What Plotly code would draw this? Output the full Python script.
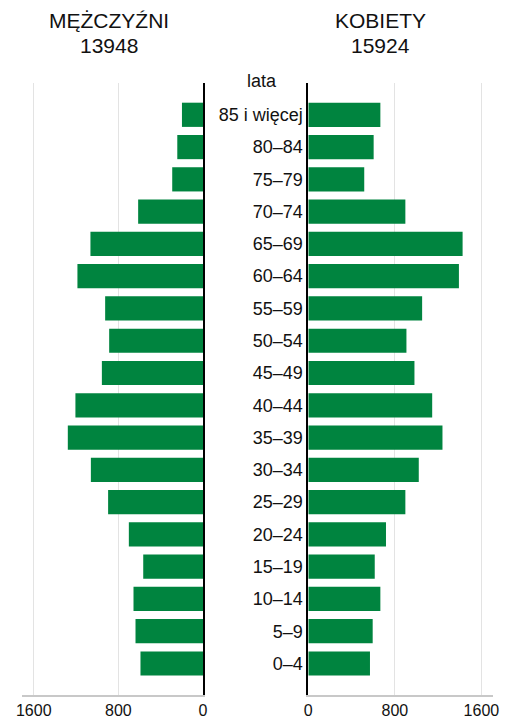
import plotly.graph_objects as go

age_groups = ["0–4", "5–9", "10–14", "15–19", "20–24", "25–29", "30–34", "35–39",
              "40–44", "45–49", "50–54", "55–59", "60–64", "65–69", "70–74",
              "75–79", "80–84", "85 i więcej"]
men = [591, 638, 657, 565, 701, 897, 1060, 1278, 1206, 956, 887, 925, 1187, 1064,
       613, 291, 243, 199]
women = [570, 595, 666, 614, 718, 897, 1021, 1240, 1145, 981, 907, 1052, 1392, 1426,
         897, 517, 604, 666]
men_title = "MĘŻCZYŹNI"
women_title = "KOBIETY"
men_total = "13948"
women_total = "15924"
age_label = "lata"
x_ticks = [0, 800, 1600]

FONT = "Liberation Sans, Arial, sans-serif"
GREEN = "#00843f"

fig = go.Figure()
fig.add_trace(go.Bar(y=age_groups, x=men, orientation="h", xaxis="x", yaxis="y",
                     marker=dict(color=GREEN, line=dict(width=0)), width=0.75,
                     showlegend=False))
fig.add_trace(go.Bar(y=age_groups, x=women, orientation="h", xaxis="x2", yaxis="y2",
                     marker=dict(color=GREEN, line=dict(width=0)), width=0.75,
                     showlegend=False))

W, H = 514, 720
ml, mr, mt, mb = 22, 21, 83, 25
pw = W - ml - mr
ph = H - mt - mb


def px_x(x):
    return (x - ml) / pw


def px_y(y):
    return (H - mb - y) / ph


xcommon = dict(tickvals=x_ticks, ticktext=[str(v) for v in x_ticks],
               showgrid=True, gridcolor="#e3e3e3", gridwidth=1, zeroline=False,
               showline=True, linecolor="#c8c8c8", linewidth=2, ticks="",
               automargin=False,
               tickfont=dict(family=FONT, size=16, color="#111"), fixedrange=True)
ycommon = dict(type="category", categoryorder="array", categoryarray=age_groups,
               range=[-0.976, len(age_groups) - 1 + 0.985], showgrid=False,
               zeroline=False, showline=True, linecolor="black", linewidth=2,
               ticks="", fixedrange=True, automargin=False)

fig.update_layout(
    width=W, height=H,
    margin=dict(l=ml, r=mr, t=mt, b=mb, autoexpand=False),
    paper_bgcolor="white", plot_bgcolor="white",
    font=dict(family=FONT, color="#111"),
    hovermode=False,
    xaxis=dict(domain=[0, px_x(203)], anchor="y", range=[1711, 0], **xcommon),
    xaxis2=dict(domain=[px_x(308.3), 1], anchor="y2", range=[0, 1707], **xcommon),
    yaxis=dict(anchor="x", side="right", showticklabels=False, **ycommon),
    yaxis2=dict(anchor="x2", side="left", showticklabels=True,
                tickfont=dict(family=FONT, size=18, color="#111"), **ycommon),
)

ann = [
    (men_title, 109, 20.5, 21),
    (men_total, 109, 45.5, 21),
    (women_title, 380, 20.5, 21),
    (women_total, 380, 45.5, 21),
    (age_label, 262, 81, 18),
]
for text, x, y, size in ann:
    fig.add_annotation(text=text, x=px_x(x), y=px_y(y), xref="paper", yref="paper",
                       xanchor="center", yanchor="middle", showarrow=False,
                       font=dict(family=FONT, size=size, color="#111"))

fig.write_html("out.html", config={"displayModeBar": False},
               post_script="document.body.style.margin='0';document.body.style.overflow='hidden';")
